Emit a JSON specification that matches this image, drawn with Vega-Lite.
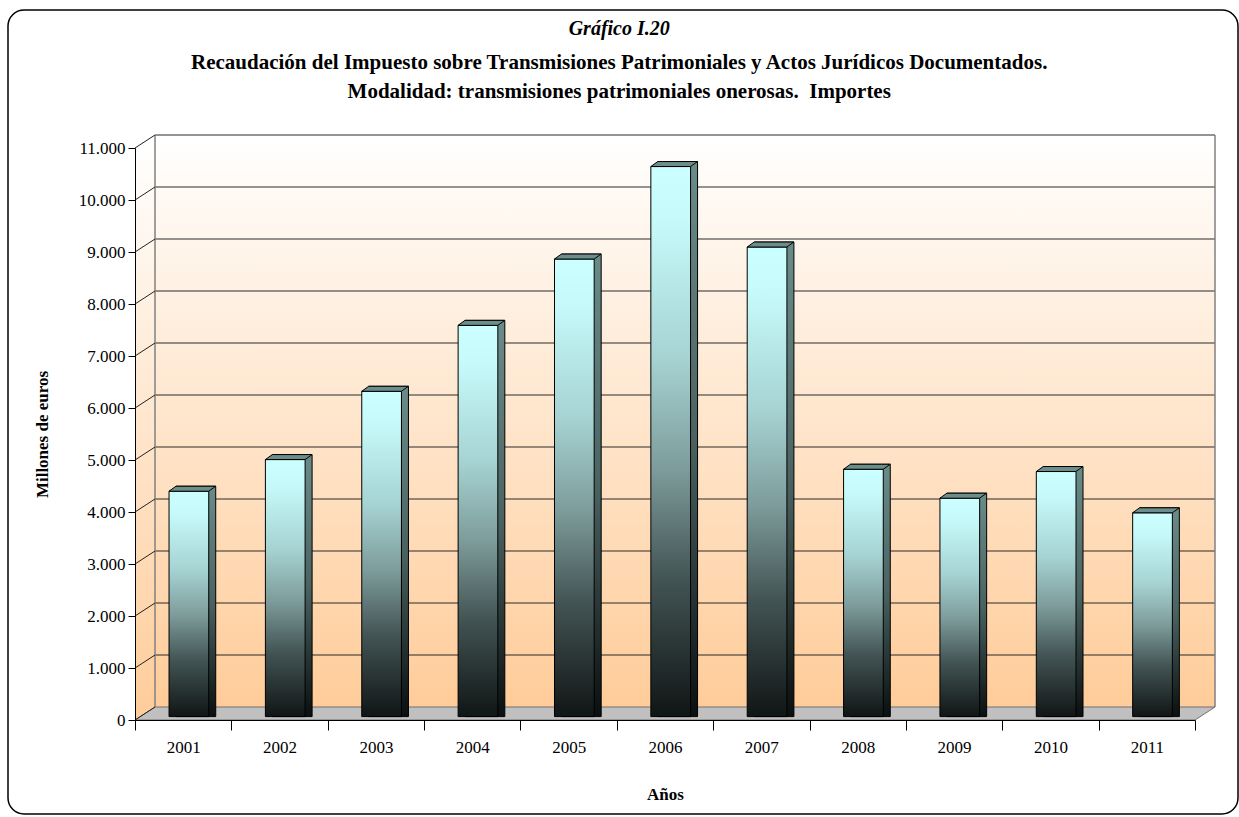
{
  "$schema": "https://vega.github.io/schema/vega-lite/v6.json",
  "width": 1060,
  "height": 572,
  "autosize": {"type": "none"},
  "padding": {"left": 135, "top": 148, "right": 44, "bottom": 97},
  "background": "white",
  "config": {"view": {"stroke": null}, "font": "Liberation Serif", "scale": {"continuousPadding": 0}},
  "title": {
    "text": "Gráfico I.20",
    "subtitle": ["Recaudación del Impuesto sobre Transmisiones Patrimoniales y Actos Jurídicos Documentados.", "Modalidad: transmisiones patrimoniales onerosas.\u00a0 Importes"],
    "font": "Liberation Serif",
    "fontSize": 20,
    "fontStyle": "italic",
    "fontWeight": "bold",
    "color": "black",
    "subtitleFont": "Liberation Serif",
    "subtitleFontSize": 21,
    "subtitleFontWeight": "bold",
    "subtitleColor": "black",
    "subtitleLineHeight": 29,
    "subtitlePadding": 13,
    "anchor": "middle",
    "frame": "bounds",
    "offset": -93,
    "dx": -6
  },
  "datasets": {
    "bars": [
      {"year": 2001, "value": 4334},
      {"year": 2002, "value": 4943},
      {"year": 2003, "value": 6256},
      {"year": 2004, "value": 7524},
      {"year": 2005, "value": 8799},
      {"year": 2006, "value": 10578},
      {"year": 2007, "value": 9030},
      {"year": 2008, "value": 4757},
      {"year": 2009, "value": 4200},
      {"year": 2010, "value": 4713},
      {"year": 2011, "value": 3919}
    ],
    "grid": [
      {"v": 0}, {"v": 1000}, {"v": 2000}, {"v": 3000}, {"v": 4000}, {"v": 5000},
      {"v": 6000}, {"v": 7000}, {"v": 8000}, {"v": 9000}, {"v": 10000}, {"v": 11000}
    ],
    "one": [{}]
  },
  "layer": [
    {
      "data": {"name": "one"},
      "mark": {"type": "rect", "fill": {"gradient": "linear", "x1": 0, "y1": 0, "x2": 0, "y2": 1, "stops": [{"offset": 0, "color": "#ffffff"}, {"offset": 1, "color": "#ffcc99"}]}, "xOffset": 20, "x2Offset": 20, "yOffset": -13, "y2Offset": -13},
      "encoding": {
        "x": {"datum": 2000.5, "type": "quantitative", "scale": {"domain": [2000.5, 2011.5], "nice": false, "zero": false, "padding": 0}},
        "x2": {"datum": 2011.5},
        "y": {"datum": 11000, "type": "quantitative", "scale": {"domain": [0, 11000], "nice": false, "padding": 0}},
        "y2": {"datum": 0}
      }
    },
    {
      "data": {"name": "one"},
      "mark": {"type": "rect", "fill": {"gradient": "linear", "x1": 0, "y1": 0, "x2": 0, "y2": 1, "stops": [{"offset": 0, "color": "#ffffff"}, {"offset": 1, "color": "#ffcc99"}]}, "x2Offset": 20, "yOffset": -6},
      "encoding": {
        "x": {"datum": 2000.5, "type": "quantitative"},
        "x2": {"datum": 2000.5},
        "y": {"datum": 11000, "type": "quantitative"},
        "y2": {"datum": 0}
      }
    },
    {
      "data": {"name": "one"},
      "mark": {"type": "rect", "fillOpacity": 0, "stroke": "black", "strokeWidth": 1.5, "cornerRadius": 16, "xOffset": -127, "x2Offset": 43, "yOffset": -138, "y2Offset": 94},
      "encoding": {
        "x": {"datum": 2000.5, "type": "quantitative"},
        "x2": {"datum": 2011.5},
        "y": {"datum": 11000, "type": "quantitative"},
        "y2": {"datum": 0}
      }
    },
    {
      "data": {"name": "grid"},
      "transform": [{"filter": "datum.v > 0"}],
      "mark": {"type": "rule", "stroke": "#2b2b2b", "strokeWidth": 1.2, "xOffset": 20, "x2Offset": 20, "yOffset": -13},
      "encoding": {
        "x": {"datum": 2000.5, "type": "quantitative"},
        "x2": {"datum": 2011.5},
        "y": {"field": "v", "type": "quantitative"}
      }
    },
    {
      "data": {"name": "one"},
      "mark": {"type": "rule", "stroke": "#808080", "strokeWidth": 1.5, "xOffset": 20, "yOffset": -13, "y2Offset": -13},
      "encoding": {
        "x": {"datum": 2000.5, "type": "quantitative"},
        "y": {"datum": 0, "type": "quantitative"},
        "y2": {"datum": 11000}
      }
    },
    {
      "data": {"name": "one"},
      "mark": {"type": "rule", "stroke": "#808080", "strokeWidth": 1.5, "xOffset": 20, "yOffset": -13, "y2Offset": -13},
      "encoding": {
        "x": {"datum": 2011.5, "type": "quantitative"},
        "y": {"datum": 0, "type": "quantitative"},
        "y2": {"datum": 11000}
      }
    },
    {
      "data": {"name": "one"},
      "mark": {"type": "point", "shape": "M0,0 L1.962963,0 L2,-0.024074 L0.037037,-0.024074 Z", "size": 1166400, "filled": true, "fill": "#c0c0c0", "stroke": "#707070", "strokeWidth": 1, "opacity": 1},
      "encoding": {
        "x": {"datum": 2000.5, "type": "quantitative"},
        "y": {"datum": 0, "type": "quantitative"}
      }
    },
    {
      "data": {"name": "grid"},
      "mark": {"type": "rule", "stroke": "#222222", "strokeWidth": 1, "x2Offset": 20, "y2Offset": -13},
      "encoding": {
        "x": {"datum": 2000.5, "type": "quantitative"},
        "x2": {"datum": 2000.5},
        "y": {"field": "v", "type": "quantitative"},
        "y2": {"field": "v"}
      }
    },
    {
      "data": {"name": "bars"},
      "mark": {"type": "bar", "width": 39.7, "xOffset": 12.7, "yOffset": -8.4, "y2Offset": -3.4, "stroke": "black", "strokeWidth": 1,
        "fill": {"gradient": "linear", "x1": 0, "y1": 0, "x2": 0, "y2": 1, "stops": [{"offset": 0, "color": "#6a8c89"}, {"offset": 0.5, "color": "#4a6361"}, {"offset": 1, "color": "#0b0f0f"}]}},
      "encoding": {
        "x": {"field": "year", "type": "quantitative"},
        "y": {"field": "value", "type": "quantitative"},
        "y2": {"datum": 0}
      }
    },
    {
      "data": {"name": "bars"},
      "mark": {"type": "bar", "width": 39.7, "xOffset": 5.7, "yOffset": -3.4, "y2Offset": -3.4, "stroke": "black", "strokeWidth": 1,
        "fill": {"gradient": "linear", "x1": 0, "y1": 0, "x2": 0, "y2": 1, "stops": [{"offset": 0, "color": "#ccffff"}, {"offset": 0.1, "color": "#c6fafa"}, {"offset": 0.35, "color": "#a6d2d2"}, {"offset": 0.55, "color": "#7d9c9b"}, {"offset": 0.75, "color": "#435454"}, {"offset": 1, "color": "#101515"}]}},
      "encoding": {
        "x": {"field": "year", "type": "quantitative",
          "axis": {"orient": "bottom", "values": [2000.5, 2001.5, 2002.5, 2003.5, 2004.5, 2005.5, 2006.5, 2007.5, 2008.5, 2009.5, 2010.5, 2011.5], "labelExpr": "datum.value > 2011 ? '' : format(datum.value + 0.5, 'd')", "labelOffset": 48.18, "labelFlush": false, "labelOverlap": false, "labelBound": false, "grid": false, "domain": true, "domainColor": "black", "ticks": true, "tickColor": "black", "tickSize": 10, "labelAngle": 0, "labelFont": "Liberation Serif", "labelFontSize": 17, "labelColor": "black", "labelPadding": 9, "title": "Años", "titleFont": "Liberation Serif", "titleFontSize": 17, "titleFontWeight": "bold", "titleColor": "black", "titlePadding": 31, "zindex": 1}},
        "y": {"field": "value", "type": "quantitative",
          "axis": {"orient": "left", "values": [0, 1000, 2000, 3000, 4000, 5000, 6000, 7000, 8000, 9000, 10000, 11000], "labelExpr": "replace(format(datum.value, ','), ',', '.')", "grid": false, "domain": true, "domainColor": "black", "ticks": true, "tickColor": "black", "tickSize": 7, "labelFont": "Liberation Serif", "labelFontSize": 17, "labelColor": "black", "labelPadding": 3, "labelFlush": false, "labelOverlap": false, "title": "Millones de euros", "titleFont": "Liberation Serif", "titleFontSize": 17, "titleFontWeight": "bold", "titleColor": "black", "titlePadding": 27, "zindex": 1}},
        "y2": {"datum": 0}
      }
    },
    {
      "data": {"name": "bars"},
      "mark": {"type": "point", "shape": "M-1,0.107 L0.7,0.107 L1,-0.107 L-0.7,-0.107 Z", "size": 2181, "filled": true, "fill": "#6c8e8b", "stroke": "black", "strokeWidth": 1, "opacity": 1, "xOffset": 9.15, "yOffset": -5.9},
      "encoding": {
        "x": {"field": "year", "type": "quantitative"},
        "y": {"field": "value", "type": "quantitative"}
      }
    }
  ]
}
